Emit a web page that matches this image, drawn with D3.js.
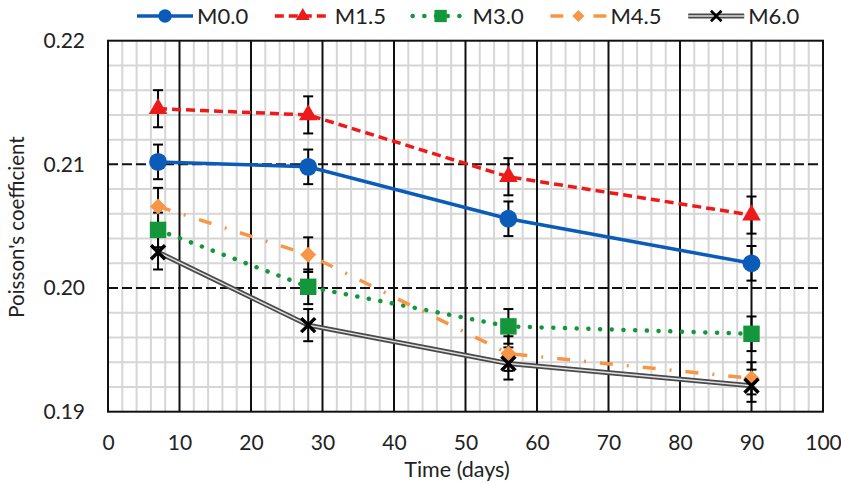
<!DOCTYPE html>
<html>
<head>
<meta charset="utf-8">
<script src="https://cdn.jsdelivr.net/npm/d3@7"></script>
<style>
  body { margin: 0; background: #fff; }
  svg { display: block; font-family: Lato, "Open Sans", sans-serif; }
</style>
</head>
<body>
<svg id="chart" width="841" height="484"></svg>
<script>
// values
var days = [7, 28, 56, 90];
var seriesNames = ["M0.0", "M1.5", "M3.0", "M4.5", "M6.0"];
var m00 = [0.2102, 0.2098, 0.2056, 0.2020];
var m15 = [0.2145, 0.2140, 0.2090, 0.2059];
var m30 = [0.2047, 0.2001, 0.1969, 0.1963];
var m45 = [0.2066, 0.2027, 0.1947, 0.1927];
var m60 = [0.2029, 0.1970, 0.1939, 0.1921];
var e00 = [0.0014, 0.0014, 0.0014, 0.0014];
var e15 = [0.0015, 0.0015, 0.0015, 0.0015];
var e30 = [0.0014, 0.0014, 0.0014, 0.0014];
var e45 = [0.0015, 0.0014, 0.0014, 0.0013];
var e60 = [0.0014, 0.0013, 0.0013, 0.0013];
var xTicks = [0, 10, 20, 30, 40, 50, 60, 70, 80, 90, 100];
var yTicks = [0.19, 0.20, 0.21, 0.22];

var values = [m00, m15, m30, m45, m60];
var errors = [e00, e15, e30, e45, e60];

var styles = [
  {color: "#0b5cb8", width: 3.5, dash: null, marker: "circle"},
  {color: "#ee1a1a", width: 3.5, dash: "9 5", marker: "triangle"},
  {color: "#14973a", width: 4.5, dash: "0.1 11.6", cap: "round", marker: "square"},
  {color: "#f79646", width: 3.5, dash: "13 14 2 14", marker: "diamond"},
  {color: "#4a4a4a", width: 5, dash: null, marker: "x", dbl: true}
];

var svg = d3.select("#chart");
var pL = 108, pR = 823, pT = 40.7, pB = 411.7;

var x = d3.scaleLinear().domain([0, 100]).range([pL, pR]);
var y = d3.scaleLinear().domain([0.19, 0.22]).range([pB, pT]);

var grid = svg.append("g");
// minor grid
grid.selectAll(".vmin").data(d3.range(2, 100, 2).filter(function(d){ return d % 10 !== 0; }))
  .enter().append("line")
  .attr("x1", function(d){ return x(d); }).attr("x2", function(d){ return x(d); })
  .attr("y1", pT).attr("y2", pB)
  .attr("stroke", "#d6d6d6").attr("stroke-width", 2);
grid.selectAll(".hmin").data(d3.range(1, 15).filter(function(d){ return d % 5 !== 0; }))
  .enter().append("line")
  .attr("x1", pL).attr("x2", pR)
  .attr("y1", function(d){ return y(0.19 + d * 0.002); })
  .attr("y2", function(d){ return y(0.19 + d * 0.002); })
  .attr("stroke", "#d6d6d6").attr("stroke-width", 2);
// major grid
grid.selectAll(".vmaj").data(d3.range(10, 100, 10))
  .enter().append("line")
  .attr("x1", function(d){ return x(d); }).attr("x2", function(d){ return x(d); })
  .attr("y1", pT).attr("y2", pB)
  .attr("stroke", "#111").attr("stroke-width", 2);
grid.selectAll(".hmaj").data([0.20, 0.21])
  .enter().append("line")
  .attr("x1", pL).attr("x2", pR)
  .attr("y1", function(d){ return y(d); }).attr("y2", function(d){ return y(d); })
  .attr("stroke", "#111").attr("stroke-width", 2).attr("stroke-dasharray", "10 4");

svg.append("rect").attr("x", pL).attr("y", pT)
  .attr("width", pR - pL).attr("height", pB - pT)
  .attr("fill", "none").attr("stroke", "#111").attr("stroke-width", 2);

// axes labels via d3 axes, no lines
var xAxis = svg.append("g").attr("transform", "translate(0," + pB + ")")
  .call(d3.axisBottom(x).tickValues(xTicks).tickSize(0).tickPadding(23).tickFormat(d3.format("d")));
var yAxis = svg.append("g").attr("transform", "translate(" + pL + ",0)")
  .call(d3.axisLeft(y).tickValues(yTicks).tickSize(0).tickPadding(23).tickFormat(d3.format(".2f")));
[xAxis, yAxis].forEach(function(a){
  a.select(".domain").remove();
  a.selectAll("text").attr("font-family", "Lato, sans-serif").attr("font-size", 21).attr("fill", "#222");
});

svg.append("text").attr("x", 457).attr("y", 477)
  .attr("text-anchor", "middle").attr("font-size", 21.5).attr("fill", "#222").text("Time (days)");
svg.append("text").attr("transform", "translate(24,227) rotate(-90)")
  .attr("text-anchor", "middle").attr("font-size", 20.5).attr("fill", "#222").text("Poisson's coefficient");

function markerPath(kind) {
  if (kind === "circle") return d3.symbol().type(d3.symbolCircle).size(250)();
  if (kind === "triangle") return d3.symbol().type(d3.symbolTriangle).size(150)();
  if (kind === "square") return d3.symbol().type(d3.symbolSquare).size(270)();
  if (kind === "diamond") return "M0,-8L8,0L0,8L-8,0Z";
  return "M-7,-7L7,7M-7,7L7,-7";
}

function drawMarker(g, s, cx, cy, scale) {
  var p = g.append("path").attr("d", markerPath(s.marker))
    .attr("transform", "translate(" + cx + "," + cy + ") scale(" + (scale || 1) + ")");
  if (s.marker === "x") p.attr("fill", "none").attr("stroke", "#000").attr("stroke-width", 3.5);
  else p.attr("fill", s.color);
}

function styleLine(p, s) {
  p.attr("fill", "none").attr("stroke", s.color).attr("stroke-width", s.width);
  if (s.dash) p.attr("stroke-dasharray", s.dash);
  if (s.cap) p.attr("stroke-linecap", s.cap);
}

var line = d3.line().x(function(d){ return x(d[0]); }).y(function(d){ return y(d[1]); });

var plot = svg.append("g");
values.forEach(function(vals, i) {
  var s = styles[i];
  var pts = days.map(function(d, j){ return [d, vals[j]]; });
  styleLine(plot.append("path").attr("d", line(pts)), s);
  if (s.dbl) plot.append("path").attr("d", line(pts)).attr("fill", "none")
    .attr("stroke", "#e0e0e0").attr("stroke-width", 1.5);
});

// error bars
values.forEach(function(vals, i) {
  days.forEach(function(d, j) {
    var cx = x(d), y1 = y(vals[j] + errors[i][j]), y2 = y(vals[j] - errors[i][j]);
    plot.append("line").attr("x1", cx).attr("x2", cx).attr("y1", y1).attr("y2", y2)
      .attr("stroke", "#000").attr("stroke-width", 2);
    [y1, y2].forEach(function(yy) {
      plot.append("line").attr("x1", cx - 5).attr("x2", cx + 5).attr("y1", yy).attr("y2", yy)
        .attr("stroke", "#000").attr("stroke-width", 2);
    });
  });
});

values.forEach(function(vals, i) {
  days.forEach(function(d, j) { drawMarker(plot, styles[i], x(d), y(vals[j])); });
});

// legend
var legend = svg.append("g");
seriesNames.forEach(function(name, i) {
  var s = styles[i];
  var lx = 137 + i * 137.8, ly = 16;
  var seg = legend.append("path").attr("d", "M" + lx + "," + ly + "H" + (lx + 56));
  styleLine(seg, s);
  if (s.dbl) legend.append("path").attr("d", "M" + lx + "," + ly + "H" + (lx + 56))
    .attr("stroke", "#e0e0e0").attr("stroke-width", 1.5);
  drawMarker(legend, s, lx + 28, ly, 0.75);
  legend.append("text").attr("x", lx + 60).attr("y", ly + 8)
    .attr("font-size", 22).attr("fill", "#222").text(name);
});
</script>
</body>
</html>
